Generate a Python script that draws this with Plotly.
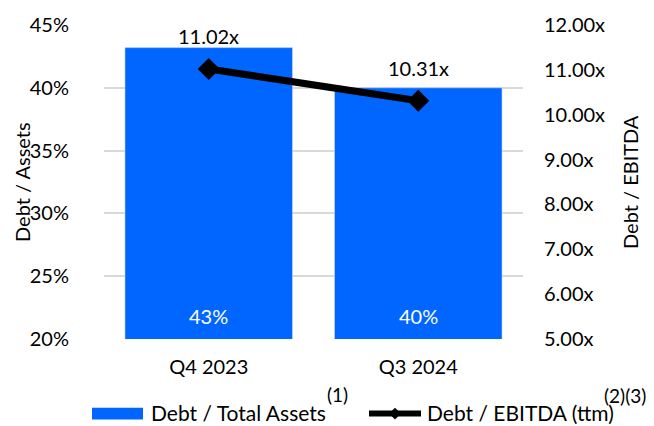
import plotly.graph_objects as go

categories = ["Q4 2023", "Q3 2024"]
debt_to_assets = [43.2, 40.0]          # percent
debt_to_ebitda = [11.02, 10.31]        # multiple
left_ticks = [20, 25, 30, 35, 40, 45]
right_ticks = [5, 6, 7, 8, 9, 10, 11, 12]

FONT = "Lato"
BLUE = "#0066FF"
W, H = 654, 426
L, R, T, B = 104, 131, 19, 87
PW, PH = W - L - R, H - T - B

def px(x):
    return (x - L) / PW

def py(y):
    return (H - B - y) / PH

fig = go.Figure()
fig.add_trace(go.Bar(
    x=categories, y=debt_to_assets, marker_color=BLUE, width=0.8,
    name="Debt / Total Assets", showlegend=False, yaxis="y",
))
fig.add_trace(go.Scatter(
    x=categories, y=debt_to_ebitda, mode="lines+markers",
    line=dict(color="black", width=7),
    marker=dict(symbol="diamond", size=17, color="black"),
    name="Debt / EBITDA (ttm)", showlegend=False, yaxis="y2",
))

ann = []
for c, v in zip(categories, debt_to_ebitda):
    ann.append(dict(x=c, y=v, xref="x", yref="y2", text=f"{v:.2f}x",
                    showarrow=False, yshift=33, font=dict(size=20, color="black", family=FONT)))
for c, v in zip(categories, debt_to_assets):
    ann.append(dict(x=c, y=left_ticks[0], xref="x", yref="y", text=f"{v:.0f}%",
                    showarrow=False, yshift=23, font=dict(size=20, color="white", family=FONT)))

# axis titles
ann.append(dict(x=px(22), y=0.5, xref="paper", yref="paper", text="Debt / Assets",
                xanchor="center", yanchor="middle",
                textangle=-90, showarrow=False, font=dict(size=20, color="black", family=FONT)))
ann.append(dict(x=px(630), y=0.5, xref="paper", yref="paper", text="Debt / EBITDA",
                xanchor="center", yanchor="middle",
                textangle=-90, showarrow=False, font=dict(size=20, color="black", family=FONT)))

# legend texts
lf = dict(size=21, color="black", family=FONT)
sf = dict(size=19, color="black", family=FONT)
ann.append(dict(x=px(149), y=py(414), xref="paper", yref="paper", text="Debt / Total Assets",
                xanchor="left", yanchor="middle", showarrow=False, font=lf))
ann.append(dict(x=px(325), y=py(396), xref="paper", yref="paper", text="(1)",
                xanchor="left", yanchor="middle", showarrow=False, font=sf))
ann.append(dict(x=px(425), y=py(414), xref="paper", yref="paper", text="Debt / EBITDA (ttm)",
                xanchor="left", yanchor="middle", showarrow=False, font=lf))
ann.append(dict(x=px(602), y=py(397), xref="paper", yref="paper", text="(2)(3)",
                xanchor="left", yanchor="middle", showarrow=False, font=sf))

shapes = [
    dict(type="rect", xref="paper", yref="paper", x0=px(92), x1=px(143), y0=py(421), y1=py(409),
         fillcolor=BLUE, line=dict(width=0)),
    dict(type="line", xref="paper", yref="paper", x0=px(369), x1=px(421), y0=py(415), y1=py(415),
         line=dict(color="black", width=6)),
    dict(type="path", xref="paper", yref="paper",
         path=f"M{px(389)},{py(415)} L{px(395)},{py(409)} L{px(401)},{py(415)} L{px(395)},{py(421)} Z",
         fillcolor="black", line=dict(width=0)),
]

fig.update_layout(
    width=W, height=H,
    margin=dict(l=L, r=R, t=T, b=B),
    paper_bgcolor="white", plot_bgcolor="white",
    font=dict(family=FONT, size=20, color="black"),
    bargap=0.2,
    showlegend=False,
    annotations=ann,
    shapes=shapes,
    xaxis=dict(showgrid=False, showline=False, zeroline=False, ticks="",
               ticklabelstandoff=14, tickfont=dict(size=20)),
    yaxis=dict(range=[left_ticks[0], left_ticks[-1]], tickvals=left_ticks,
               ticktext=[f"{t}%" for t in left_ticks],
               showgrid=True, gridcolor="#d9d9d9", gridwidth=1.5, zeroline=False,
               showline=False, ticks="", ticklabelstandoff=34, tickfont=dict(size=20)),
    yaxis2=dict(range=[right_ticks[0], right_ticks[-1]], tickvals=right_ticks,
                ticktext=[f"{t:.2f}x" for t in right_ticks], overlaying="y", side="right",
                showgrid=False, zeroline=False, showline=False, ticks="",
                ticklabelstandoff=20, tickfont=dict(size=20)),
)

fig.write_html("out.html", config={"displayModeBar": False},
               post_script="document.body.style.margin='0';document.body.style.overflow='hidden';")
